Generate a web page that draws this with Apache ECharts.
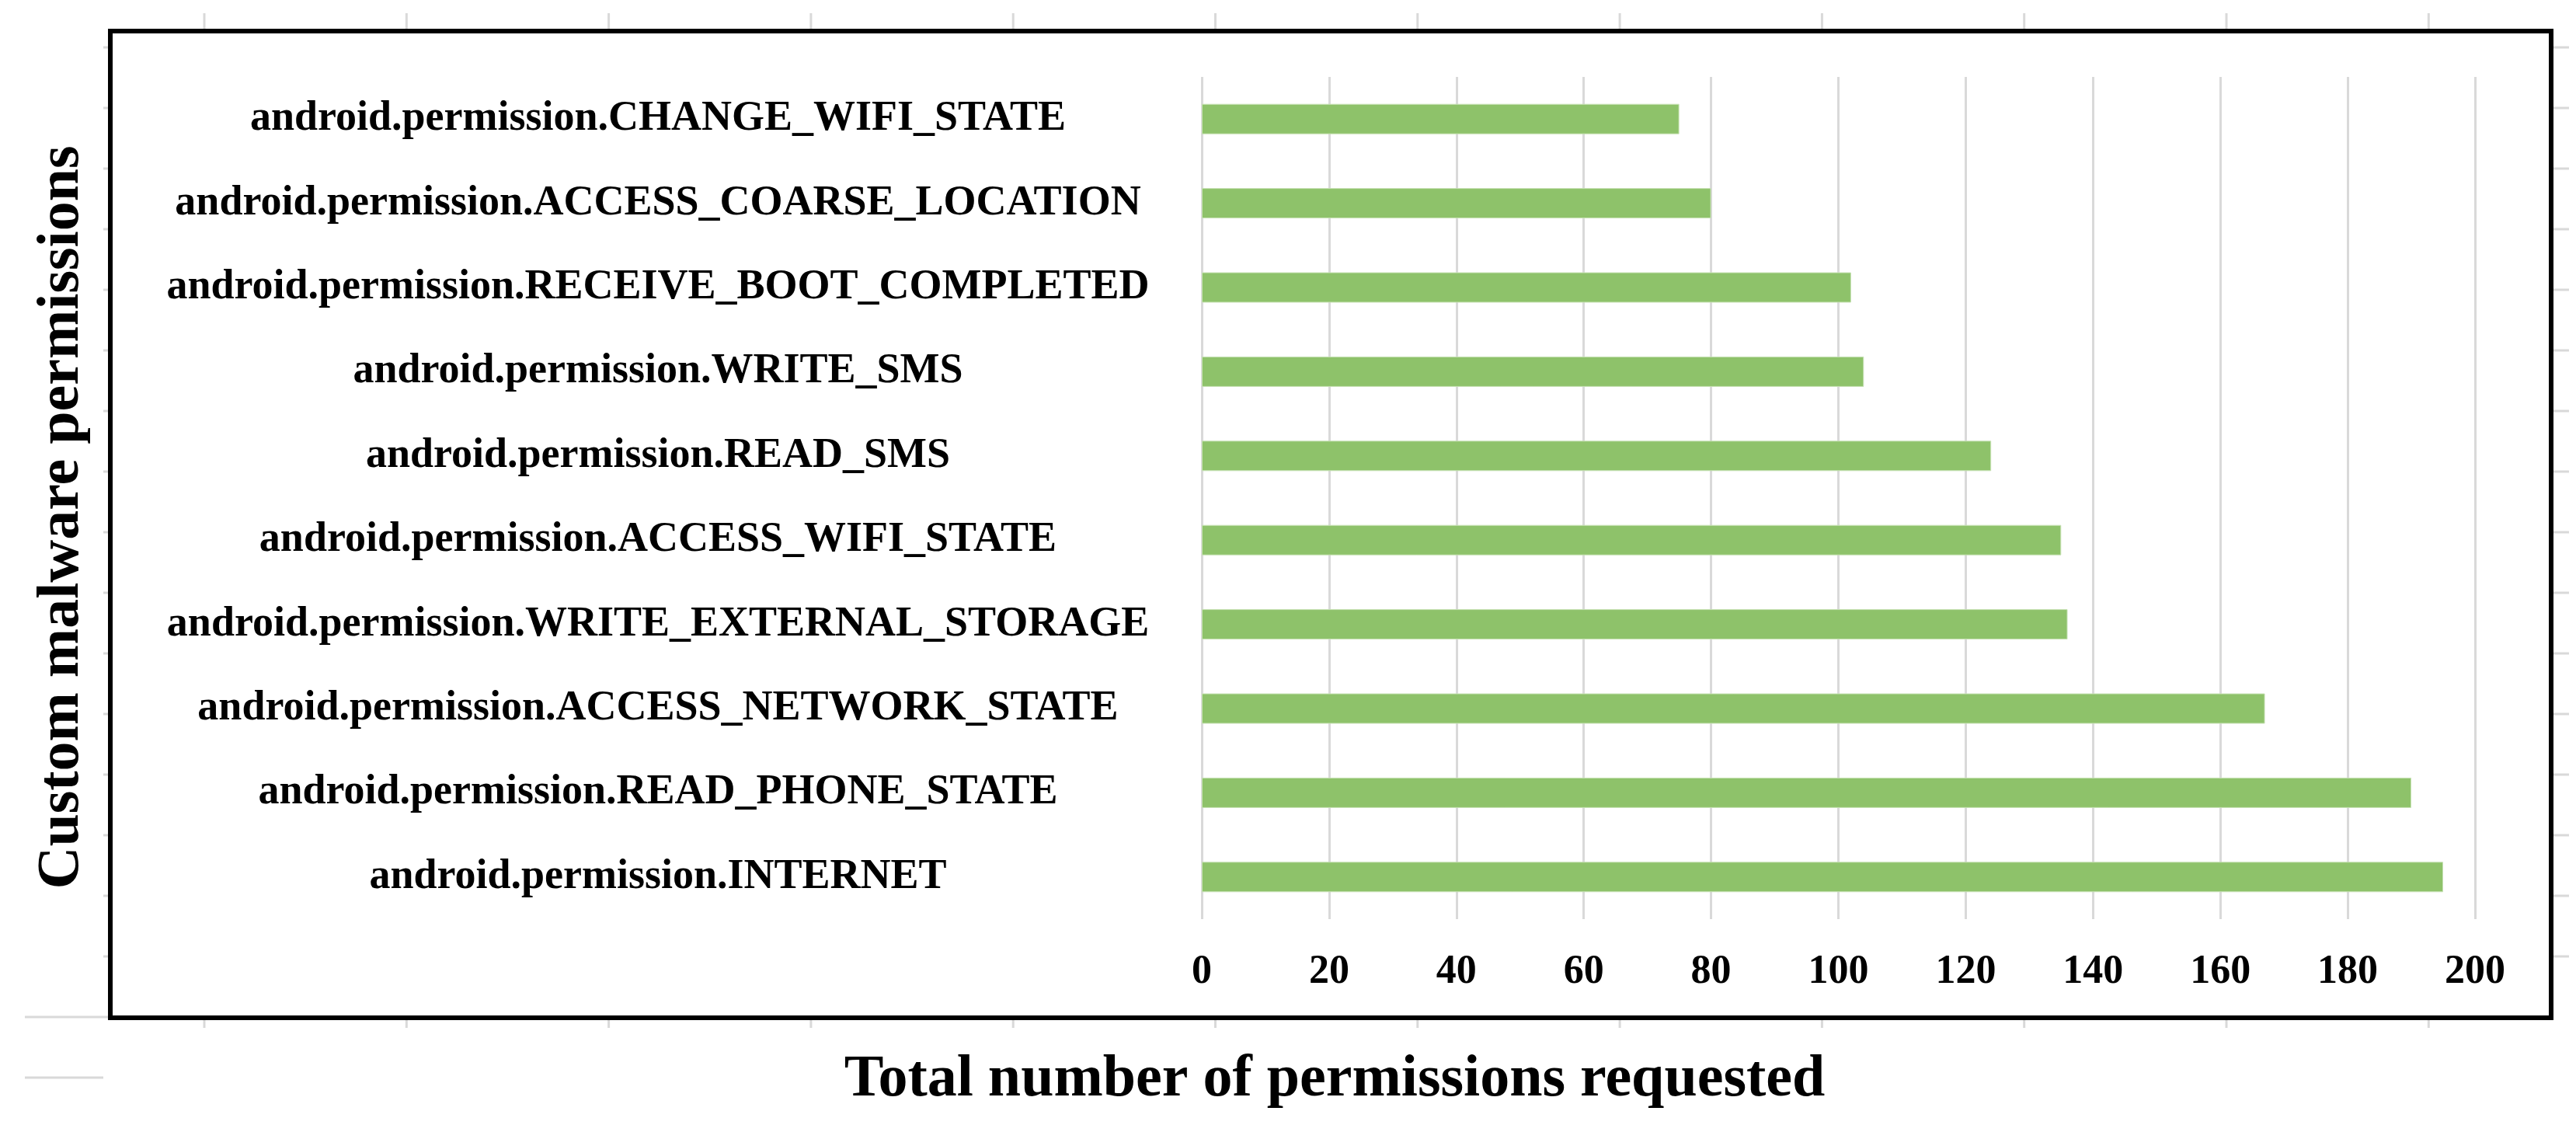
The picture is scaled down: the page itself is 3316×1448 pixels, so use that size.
<!DOCTYPE html>
<html>
<head>
<meta charset="utf-8">
<script src="https://cdn.jsdelivr.net/npm/echarts@6/dist/echarts.min.js"></script>
<style>
  html, body { margin: 0; padding: 0; background: #fff; }
  #chart { width: 3316px; height: 1448px; }
</style>
</head>
<body>
<div id="chart"></div>
<script>
const categories = [
  'android.permission.CHANGE_WIFI_STATE',
  'android.permission.ACCESS_COARSE_LOCATION',
  'android.permission.RECEIVE_BOOT_COMPLETED',
  'android.permission.WRITE_SMS',
  'android.permission.READ_SMS',
  'android.permission.ACCESS_WIFI_STATE',
  'android.permission.WRITE_EXTERNAL_STORAGE',
  'android.permission.ACCESS_NETWORK_STATE',
  'android.permission.READ_PHONE_STATE',
  'android.permission.INTERNET'
]
const counts = [75, 80, 102, 104, 124, 135, 136, 167, 190, 195]
const xTicks = [0, 20, 40, 60, 80, 100, 120, 140, 160, 180, 200]

const fontFamily = '"Liberation Serif", "Times New Roman", serif'
const faint = '#d9d9d9'

// leftover spreadsheet cell lines around the pasted chart
const cellLines = []
for (let k = 0; k < 12; k++) {
  const x = 263 + 260.3 * k
  cellLines.push({ type: 'line', shape: { x1: x, y1: 17, x2: x, y2: 37 }, style: { stroke: faint, lineWidth: 3 } })
  cellLines.push({ type: 'line', shape: { x1: x, y1: 1313, x2: x, y2: 1323 }, style: { stroke: faint, lineWidth: 3 } })
}
for (let k = 0; k < 16; k++) {
  const y = 61 + 78 * k
  if (y > 1310) break
  cellLines.push({ type: 'line', shape: { x1: 3287, y1: y, x2: 3307, y2: y }, style: { stroke: faint, lineWidth: 3 } })
  cellLines.push({ type: 'line', shape: { x1: 133, y1: y, x2: 139, y2: y }, style: { stroke: faint, lineWidth: 3 } })
}
cellLines.push({ type: 'line', shape: { x1: 32, y1: 1309, x2: 139, y2: 1309 }, style: { stroke: faint, lineWidth: 3 } })
cellLines.push({ type: 'line', shape: { x1: 32, y1: 1387, x2: 133, y2: 1387 }, style: { stroke: faint, lineWidth: 3 } })

const chart = echarts.init(document.getElementById('chart'))

chart.setOption({
  backgroundColor: '#fff',
  animation: false,
  grid: {
    left: 1547,
    right: 130,
    top: 99,
    bottom: 265
  },
  xAxis: {
    type: 'value',
    min: 0,
    max: 200,
    interval: 20,
    axisLine: { show: false },
    axisTick: { show: false },
    splitLine: { show: true, lineStyle: { color: faint, width: 3 } },
    axisLabel: {
      margin: 43,
      color: '#000',
      fontFamily: fontFamily,
      fontWeight: 'bold',
      fontSize: 52,
      formatter: v => xTicks.includes(v) ? String(v) : ''
    }
  },
  yAxis: {
    type: 'category',
    inverse: true,
    data: categories,
    axisLine: { show: false },
    axisTick: { show: false },
    splitLine: { show: false },
    axisLabel: {
      margin: 700,
      align: 'center',
      color: '#000',
      fontFamily: fontFamily,
      fontWeight: 'bold',
      fontSize: 54
    }
  },
  series: [
    {
      type: 'bar',
      data: counts,
      barWidth: 39,
      itemStyle: {
        color: '#8ec26a',
        borderColor: '#c8e2b6',
        borderWidth: 1
      }
    }
  ],
  graphic: [
    ...cellLines,
    {
      type: 'rect',
      shape: { x: 142, y: 40, width: 3142, height: 1270 },
      style: { fill: 'none', stroke: '#000', lineWidth: 6 },
      z: 10
    },
    {
      type: 'text',
      x: 80,
      y: 666,
      rotation: Math.PI / 2,
      style: {
        text: 'Custom malware permissions',
        fill: '#000',
        font: 'bold 76px ' + fontFamily,
        textAlign: 'center',
        textVerticalAlign: 'middle'
      }
    },
    {
      type: 'text',
      x: 1718,
      y: 1390,
      style: {
        text: 'Total number of permissions requested',
        fill: '#000',
        font: 'bold 76px ' + fontFamily,
        textAlign: 'center',
        textVerticalAlign: 'middle'
      }
    }
  ]
})
</script>
</body>
</html>
